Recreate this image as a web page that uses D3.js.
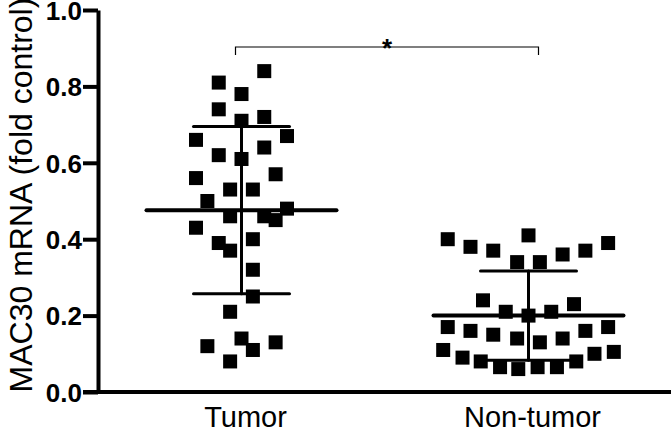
<!DOCTYPE html>
<html lang="en">
<head>
<meta charset="UTF-8">
<title>MAC30 mRNA</title>
<style>
  body { margin: 0; background: #fff; }
  svg { display: block; font-family: "Liberation Sans", Arial, sans-serif; }
  .yaxis text { font-weight: bold; font-size: 26px; fill: #000; font-family: "Liberation Sans", Arial, sans-serif; }
  .xaxis text { font-size: 29px; fill: #000; font-family: "Liberation Sans", Arial, sans-serif; }
</style>
</head>
<body>
<div class="chart"></div>
<script src="https://d3js.org/d3.v7.min.js"></script>
<script>
var groups = ["Tumor", "Non-tumor"];

// values; slot = horizontal jitter column
var tumorVals  = [0.84, 0.81, 0.78, 0.74, 0.71, 0.72, 0.67, 0.66, 0.64, 0.62, 0.61,
                  0.56, 0.57, 0.53, 0.53, 0.50, 0.48, 0.46, 0.46, 0.45, 0.43, 0.39,
                  0.37, 0.40, 0.32, 0.25, 0.21, 0.14, 0.12, 0.11, 0.13, 0.08];
var tumorSlots = [2, -2, 0, -2, 0, 2, 4, -4, 2, -2, 0,
                  -4, 3, -1, 1, -3, 4, -1, 2, 3, -4, -2,
                  -1, 1, 1, 1, -1, 0, -3, 1, 3, -1];

var nonTumorVals  = [0.40, 0.38, 0.37, 0.41, 0.34, 0.34, 0.36, 0.37, 0.39,
                     0.24, 0.21, 0.20, 0.21, 0.23,
                     0.17, 0.16, 0.15, 0.14, 0.13, 0.14, 0.16, 0.17,
                     0.11, 0.09, 0.08, 0.065, 0.06, 0.065, 0.065, 0.08, 0.10, 0.105];
var nonTumorSlots = [-7.1, -5.1, -3.1, 0, -1, 1, 3, 5, 7,
                     -4, -2, 0, 2, 4,
                     -7.1, -5.1, -3.1, -1, 1, 3, 5, 7,
                     -7.5, -5.8, -4.2, -2.5, -0.9, 0.8, 2.5, 4.2, 5.8, 7.5];

var means = [0.476, 0.20];
var sds   = [0.219, 0.117];

var yTicks = [0, 0.2, 0.4, 0.6, 0.8, 1.0];

var W = 671, H = 431;
var margin = {top: 10, right: 0, bottom: 39, left: 98};

var svg = d3.select(".chart").append("svg")
    .attr("width", W)
    .attr("height", H);

var x = d3.scaleBand()
    .domain(groups)
    .range([margin.left, W + 1]);

var y = d3.scaleLinear()
    .domain([0, 1])
    .range([H - margin.bottom, margin.top]);

var jitter = d3.scaleLinear()
    .domain([-8, 8])
    .range([-91, 91]);

function cx(g) { return x(g) + x.bandwidth() / 2; }

// y axis
var yaxis = d3.axisLeft(y)
    .tickValues(yTicks)
    .tickFormat(d3.format(".1f"))
    .tickSize(15)
    .tickSizeOuter(0)
    .tickPadding(1);

var gy = svg.append("g")
    .attr("class", "yaxis")
    .attr("transform", "translate(" + margin.left + ",0)")
    .call(yaxis);
gy.select(".domain").attr("stroke-width", 4).attr("stroke", "#000");
gy.selectAll(".tick line").attr("stroke-width", 4).attr("stroke", "#000");
gy.selectAll(".tick text").attr("dy", "0.36em");

// x axis
var xaxis = d3.axisBottom(x).tickSize(0).tickSizeOuter(0).tickPadding(14);
var gx = svg.append("g")
    .attr("class", "xaxis")
    .attr("transform", "translate(0," + y(0) + ")")
    .call(xaxis);
gx.select(".domain").attr("stroke-width", 4).attr("stroke", "#000")
    .attr("d", "M" + (margin.left - 15) + ",0H" + W);
gx.selectAll(".tick text").attr("dx", 4);

// y title
svg.append("text")
    .attr("transform", "translate(32,195) rotate(-90)")
    .attr("text-anchor", "middle")
    .attr("font-size", 32)
    .text("MAC30 mRNA (fold control)");

// points
var sets = [
    {g: groups[0], vals: tumorVals, slots: tumorSlots},
    {g: groups[1], vals: nonTumorVals, slots: nonTumorSlots}
];
var sq = 14;
sets.forEach(function(s) {
    svg.append("g").selectAll("rect")
        .data(s.vals)
        .enter()
        .append("rect")
        .attr("x", function(d, i) { return cx(s.g) + jitter(s.slots[i]) - sq / 2; })
        .attr("y", function(d) { return y(d) - sq / 2; })
        .attr("width", sq)
        .attr("height", sq)
        .attr("fill", "#000");
});

// mean and sd bars
groups.forEach(function(g, i) {
    var c = cx(g);
    var gg = svg.append("g").attr("stroke", "#000").attr("stroke-linecap", "round");
    gg.append("line")
        .attr("x1", c - 95).attr("x2", c + 95)
        .attr("y1", y(means[i])).attr("y2", y(means[i]))
        .attr("stroke-width", 4);
    gg.append("line")
        .attr("x1", c).attr("x2", c)
        .attr("y1", y(means[i] + sds[i])).attr("y2", y(means[i] - sds[i]))
        .attr("stroke-width", 3);
    [means[i] + sds[i], means[i] - sds[i]].forEach(function(v) {
        gg.append("line")
            .attr("x1", c - 48).attr("x2", c + 48)
            .attr("y1", y(v)).attr("y2", y(v))
            .attr("stroke-width", 3);
    });
});

// significance bracket
var bx1 = cx(groups[0]) - 6, bx2 = cx(groups[1]) + 10, by = 47;
svg.append("path")
    .attr("d", "M" + bx1 + "," + (by + 8) + "V" + by + "H" + bx2 + "V" + (by + 8))
    .attr("fill", "none")
    .attr("stroke", "#000")
    .attr("stroke-width", 1.2);
svg.append("text")
    .attr("x", (bx1 + bx2) / 2)
    .attr("y", by + 10)
    .attr("text-anchor", "middle")
    .attr("font-size", 26)
    .attr("font-weight", "bold")
    .text("*");
</script>
</body>
</html>
